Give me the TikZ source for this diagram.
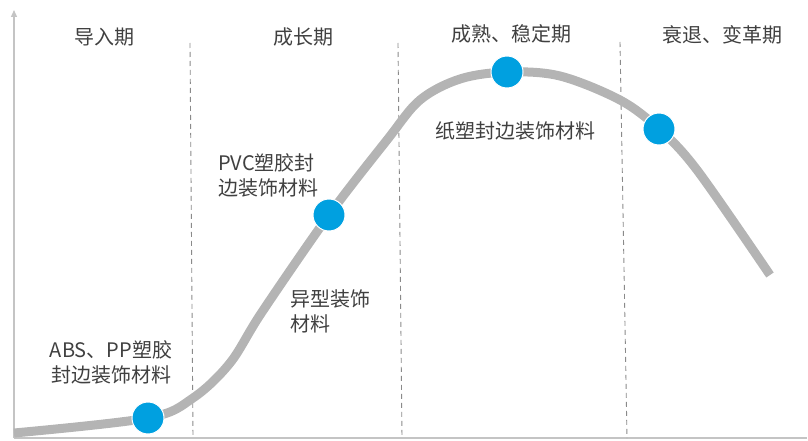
\documentclass[tikz,border=0pt]{standalone}
\usepackage{fontspec}
\newfontfamily\cjk{Noto Sans CJK SC}
\usetikzlibrary{arrows.meta}
\definecolor{curvegray}{HTML}{B4B4B4}
\definecolor{dotblue}{HTML}{00A0E0}
\definecolor{axisgray}{HTML}{C4C4C4}
\definecolor{dashgray}{HTML}{8A8A8A}
\definecolor{txt}{HTML}{404040}
\tikzset{
  lbl/.style={font=\cjk\fontsize{20}{25}\selectfont, text=txt, inner sep=0pt, align=center},
  lbll/.style={lbl, align=left, anchor=north west},
  phase/.style={draw=dashgray, line width=0.9pt, dash pattern=on 5pt off 4pt},
  axisline/.style={draw=axisgray, line width=1.4pt},
  dot/.style={circle, fill=dotblue, draw=white, line width=1pt, minimum size=32pt, inner sep=0pt},
  curve/.style={draw=curvegray, line width=9pt, line cap=butt, line join=round}
}
\begin{document}
\begin{tikzpicture}[x=1pt,y=-1pt]
\useasboundingbox (0,0) rectangle (808,441);
% axes
\coordinate (o) at (14,438);
\coordinate (ytop) at (14,10);
\coordinate (xend) at (807,438);
\draw[axisline, -{Triangle[length=7pt,width=6pt]}] (o) -- (ytop);
\draw[axisline] (o) -- (xend);
% phase separators
\coordinate (d1t) at (190,43); \coordinate (d1b) at (193,438);
\coordinate (d2t) at (398,43); \coordinate (d2b) at (402,438);
\coordinate (d3t) at (620,42); \coordinate (d3b) at (627,438);
\draw[phase] (d1t) -- (d1b);
\draw[phase] (d2t) -- (d2b);
\draw[phase] (d3t) -- (d3b);
% curve
\draw[curve] plot[smooth, tension=0.55] coordinates {
  (14,433) (148,418) (193,398) (230,363) (262,312) (329,215) (387,140)
  (420,100) (460,79) (507,72) (560,76) (620,100) (659,129) (697,170) (770,275)};
% dots
\node[dot] (p1) at (148,418) {};
\node[dot] (p2) at (329,215) {};
\node[dot] (p3) at (507,72) {};
\node[dot] (p4) at (659,129) {};
% phase labels
\node[lbl] (h1) at (104,37) {导入期};
\node[lbl] (h2) at (303,37) {成长期};
\node[lbl] (h3) at (511,34) {成熟、稳定期};
\node[lbl] (h4) at (722,35) {衰退、变革期};
% material labels
\node[lbl] (m1) at (111,362) {ABS、PP塑胶\\封边装饰材料};
\node[lbll] (m2) at (218,153) {PVC塑胶封\\边装饰材料};
\node[lbll] (m3) at (290,289) {异型装饰\\材料};
\node[lbl] (m4) at (515,131) {纸塑封边装饰材料};
\end{tikzpicture}
\end{document}
